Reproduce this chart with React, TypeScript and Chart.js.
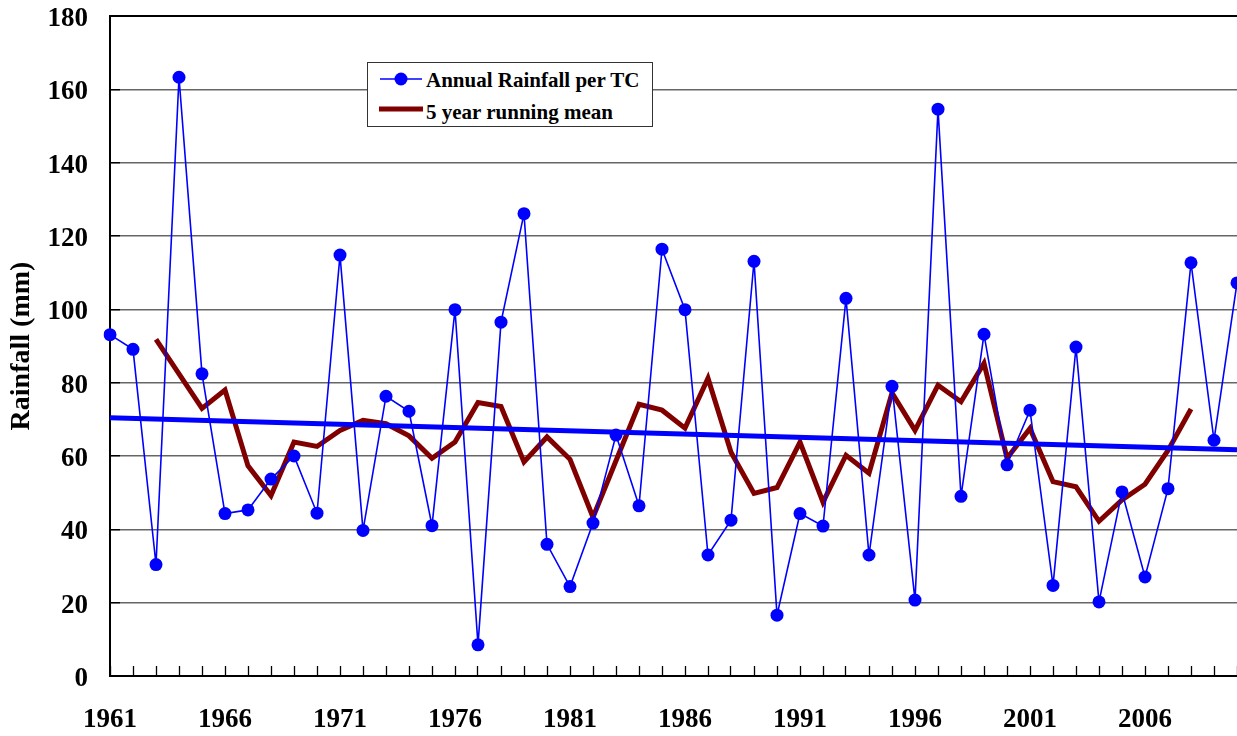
import React, { useEffect, useRef } from 'react';
import { Chart, registerables } from 'chart.js';

Chart.register(...registerables);

const years = [
  1961, 1962, 1963, 1964, 1965, 1966, 1967, 1968, 1969, 1970,
  1971, 1972, 1973, 1974, 1975, 1976, 1977, 1978, 1979, 1980,
  1981, 1982, 1983, 1984, 1985, 1986, 1987, 1988, 1989, 1990,
  1991, 1992, 1993, 1994, 1995, 1996, 1997, 1998, 1999, 2000,
  2001, 2002, 2003, 2004, 2005, 2006, 2007, 2008, 2009, 2010,
];

const rainfall = [
  93.1, 89.1, 30.4, 163.3, 82.4, 44.3, 45.3, 53.7, 60.0, 44.4,
  114.8, 39.7, 76.3, 72.2, 41.0, 99.9, 8.5, 96.5, 126.1, 35.9,
  24.4, 41.7, 65.7, 46.4, 116.4, 99.9, 33.0, 42.5, 113.1, 16.6,
  44.3, 40.9, 103.0, 33.0, 79.0, 20.7, 154.6, 49.0, 93.2, 57.6,
  72.5, 24.7, 89.7, 20.2, 50.2, 27.0, 51.1, 112.7, 64.3, 107.2,
];

const runningMean = [
  null, null, 91.8, 82.4, 73.0, 78.0, 57.3, 49.2, 63.8, 62.6,
  67.0, 69.7, 68.8, 65.5, 59.4, 63.8, 74.6, 73.5, 58.4, 65.2,
  59.1, 43.3, 58.7, 74.1, 72.5, 67.6, 81.2, 61.0, 49.8, 51.4,
  63.8, 47.4, 60.2, 55.3, 77.2, 67.0, 79.3, 74.8, 85.3, 59.4,
  67.5, 53.0, 51.6, 42.2, 48.0, 52.3, 61.5, 72.8, null, null,
];

// linear trend: value at first year, value at last year
const trendEnds = [70.4, 61.7];

const xTickLabels = [1961, 1966, 1971, 1976, 1981, 1986, 1991, 1996, 2001, 2006];

const FONT = "'Liberation Serif', 'Times New Roman', serif";

export default function App() {
  const ref = useRef<HTMLCanvasElement>(null);

  useEffect(() => {
    const last = years.length - 1;
    const trend = years.map((_, i) => (i === 0 ? trendEnds[0] : i === last ? trendEnds[1] : null));
    const chart = new Chart(ref.current as HTMLCanvasElement, {
      type: 'line',
      data: {
        labels: years.map(String),
        datasets: [
          {
            label: 'Annual Rainfall per TC',
            data: rainfall,
            borderColor: '#0000ff',
            backgroundColor: '#0000ff',
            borderWidth: 1.6,
            pointRadius: 6.5,
            pointBorderWidth: 0,
            pointBackgroundColor: '#0000ff',
            tension: 0,
            order: 0,
          },
          {
            label: 'Trend',
            data: trend,
            borderColor: '#0000ff',
            backgroundColor: '#0000ff',
            borderWidth: 5,
            pointRadius: 0,
            spanGaps: true,
            order: 1,
          },
          {
            label: '5 year running mean',
            data: runningMean as any,
            borderColor: '#800000',
            backgroundColor: '#800000',
            borderWidth: 5,
            pointRadius: 0,
            borderJoinStyle: 'miter',
            order: 2,
          },
        ],
      },
      options: {
        animation: false,
        responsive: false,
        maintainAspectRatio: false,
        layout: { autoPadding: false, padding: { top: 16, right: 0, bottom: 0, left: 0 } },
        plugins: { legend: { display: false }, tooltip: { enabled: false } },
        scales: {
          x: {
            type: 'category',
            offset: false,
            grid: {
              display: true,
              drawOnChartArea: false,
              drawTicks: true,
              tickLength: -10,
              tickColor: '#000',
              tickWidth: 1.3,
              offset: false,
            },
            border: { display: true, color: '#000', width: 2 },
            ticks: {
              autoSkip: false,
              maxRotation: 0,
              minRotation: 0,
              padding: 38,
              color: '#000',
              font: { family: FONT, size: 27, weight: 'bold' },
              callback: (_v: any, i: number) => (xTickLabels.includes(years[i]) ? String(years[i]) : ''),
            },
            afterFit: (s: any) => {
              s.height = 60;
              s.paddingLeft = 0;
              s.paddingRight = 0;
              s.paddingTop = 0;
              s.paddingBottom = 0;
            },
          },
          y: {
            min: 0,
            max: 180,
            ticks: {
              stepSize: 20,
              padding: 32,
              labelOffset: 3,
              color: '#000',
              font: { family: FONT, size: 27, weight: 'bold' },
            },
            grid: {
              color: (c: any) => (c.tick && c.tick.value === 180 ? '#000' : '#666'),
              lineWidth: (c: any) => (c.tick && c.tick.value === 180 ? 2 : 1.4),
              tickLength: -10,
              tickColor: '#000',
              tickWidth: 1.4,
            },
            border: { display: true, color: '#000', width: 2 },
            title: {
              display: true,
              text: 'Rainfall (mm)',
              color: '#000',
              font: { family: FONT, size: 28, weight: 'bold' },
              padding: { top: 5, bottom: 0 },
            },
            afterFit: (s: any) => {
              s.width = 110;
              s.paddingLeft = 0;
              s.paddingRight = 0;
              s.paddingTop = 0;
              s.paddingBottom = 0;
            },
          },
        },
      } as any,
    });
    return () => chart.destroy();
  }, []);

  return (
    <div
      style={{
        position: 'absolute',
        left: 0,
        top: 0,
        width: 1237,
        height: 736,
        background: '#fff',
        overflow: 'hidden',
      }}
    >
      <canvas ref={ref} width={1237} height={736} style={{ display: 'block', width: 1237, height: 736 }} />
      <svg
        width={1237}
        height={736}
        style={{ position: 'absolute', left: 0, top: 0, pointerEvents: 'none' }}
      >
        <rect x={367.5} y={62.5} width={285} height={64} fill="#fff" stroke="#333" strokeWidth={1} />
        <line x1={380} y1={79} x2={422} y2={79} stroke="#0000ff" strokeWidth={1.6} />
        <circle cx={401} cy={79} r={6.5} fill="#0000ff" />
        <text x={426} y={87} fontFamily={FONT} fontWeight="bold" fontSize={21} fill="#000">
          Annual Rainfall per TC
        </text>
        <line x1={379} y1={109} x2={423} y2={109} stroke="#800000" strokeWidth={5} />
        <text x={426} y={119} fontFamily={FONT} fontWeight="bold" fontSize={21} fill="#000">
          5 year running mean
        </text>
      </svg>
    </div>
  );
}
